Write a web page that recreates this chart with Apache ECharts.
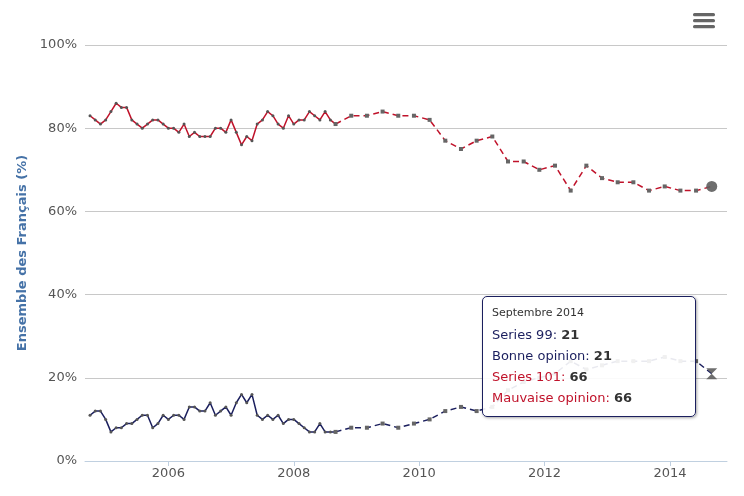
<!DOCTYPE html>
<html><head><meta charset="utf-8">
<script src="https://cdn.jsdelivr.net/npm/echarts@6/dist/echarts.min.js"></script>
<style>html,body{margin:0;padding:0;background:#fff}#c{width:744px;height:496px}</style>
</head><body><div id="c"></div><script>
// Monthly series (solid lines)
const monthlyDates = [
'2004-10','2004-11','2004-12','2005-01','2005-02','2005-03','2005-04','2005-05','2005-06','2005-07','2005-08','2005-09','2005-10','2005-11','2005-12',
'2006-01','2006-02','2006-03','2006-04','2006-05','2006-06','2006-07','2006-08','2006-09','2006-10','2006-11','2006-12',
'2007-01','2007-02','2007-03','2007-04','2007-05','2007-06','2007-07','2007-08','2007-09','2007-10','2007-11','2007-12',
'2008-01','2008-02','2008-03','2008-04','2008-05','2008-06','2008-07','2008-08','2008-09'];
const bonneMonthly = [11,12,12,10,7,8,8,9,9,10,11,11,8,9,11,10,11,11,10,13,13,12,12,14,11,12,13,11,14,16,14,16,11,10,11,10,11,9,10,10,9,8,7,7,9,7,7,7];
const mauvaiseMonthly = [83,82,81,82,84,86,85,85,82,81,80,81,82,82,81,80,80,79,81,78,79,78,78,78,80,80,79,82,79,76,78,77,81,82,84,83,81,80,83,81,82,82,84,83,82,84,82,81];
// Quarterly series (dashed lines)
const quarterlyDates = ['2008-09','2008-12','2009-03','2009-06','2009-09','2009-12','2010-03','2010-06','2010-09','2010-12','2011-03','2011-06','2011-09','2011-12','2012-03','2012-06','2012-09','2012-12','2013-03','2013-06','2013-09','2013-12','2014-03','2014-06','2014-09'];
const bonneQuarterly = [7,8,8,9,8,9,10,12,13,12,13,17,19,20,21,24,22,23,24,24,24,25,24,24,21];
const mauvaiseQuarterly = [81,83,83,84,83,83,82,77,75,77,78,72,72,70,71,65,71,68,67,67,65,66,65,65,66];
const xTickYears = [2006,2008,2010,2012,2014];
const yAxisTitle = 'Ensemble des Français (%)';
const tooltipTitle = 'Septembre 2014';

const NAVY = '#1b1f5e', RED = '#c0122a';
const FONT = "'Lucida Grande','DejaVu Sans',sans-serif";
function toYear(s){ const p = s.split('-').map(Number); return p[0] + (p[1]-1)/12; }
function pairs(dates, vals){ return dates.map((d,i)=>[toYear(d), vals[i]]); }
function dashedData(dates, vals, lastSymbol, lastSize){
  return dates.map((d,i)=>{
    const item = {value:[toYear(d), vals[i]]};
    if(i === dates.length-1){ item.symbol = lastSymbol; item.symbolSize = lastSize; item.itemStyle = {color:'#5e5e5e', opacity:0.9}; }
    return item;
  });
}
const lastB = bonneQuarterly[bonneQuarterly.length-1];
const lastM = mauvaiseQuarterly[mauvaiseQuarterly.length-1];

const chart = echarts.init(document.getElementById('c'), null, {renderer:'canvas'});
chart.setOption({
  animation:false,
  backgroundColor:'#fff',
  textStyle:{fontFamily:FONT},
  grid:{left:85, right:17, top:45, bottom:35, containLabel:false},
  xAxis:{
    type:'value', min:2004.67, max:2014.91,
    axisLine:{show:true, lineStyle:{color:'#C0D0E0', width:1}},
    axisTick:{show:true, length:5, lineStyle:{color:'#C0D0E0'}, customValues:xTickYears},
    axisLabel:{customValues:xTickYears, color:'#555', fontSize:13, margin:6, fontFamily:FONT, formatter:v=>String(Math.round(v))},
    splitLine:{show:false}
  },
  yAxis:{
    type:'value', min:0, max:100, interval:20,
    name:yAxisTitle, nameLocation:'middle', nameGap:56, nameRotate:90,
    nameTextStyle:{color:'#4572A7', fontWeight:'bold', fontSize:13, fontFamily:FONT},
    axisLine:{show:false}, axisTick:{show:false},
    axisLabel:{formatter:'{value}%', color:'#555', fontSize:13, margin:8, fontFamily:FONT},
    splitLine:{lineStyle:{color:'#C8C8C8', width:1}}
  },
  tooltip:{
    trigger:'item', triggerOn:'none', alwaysShowContent:true,
    position:function(){ return [482, 296]; },
    backgroundColor:'rgba(255,255,255,0.9)', borderColor:NAVY, borderWidth:1.5, borderRadius:5,
    padding:[8,9,8,9],
    extraCssText:'box-shadow:1px 1px 3px rgba(0,0,0,0.35);width:194px;line-height:21px;',
    formatter:function(){
      const st = 'font-size:13px;';
      const b = v=>'<b style="color:#333">'+v+'</b>';
      return '<div style="font-size:11px;color:#333;line-height:16px;margin-bottom:3px">'+tooltipTitle+'</div>'+
        '<div style="'+st+'color:'+NAVY+'">Series 99: '+b(lastB)+'</div>'+
        '<div style="'+st+'color:'+NAVY+'">Bonne opinion: '+b(lastB)+'</div>'+
        '<div style="'+st+'color:'+RED+'">Series 101: '+b(lastM)+'</div>'+
        '<div style="'+st+'color:'+RED+'">Mauvaise opinion: '+b(lastM)+'</div>';
    }
  },
  series:[
    {name:'Bonne opinion', type:'line', data:pairs(monthlyDates, bonneMonthly),
     lineStyle:{color:NAVY, width:1.5}, itemStyle:{color:'#555'}, symbol:'circle', symbolSize:3, showSymbol:true, z:3},
    {name:'Series 99', type:'line', data:dashedData(quarterlyDates, bonneQuarterly, 'path://M0,0 L10,0 L5,5 L10,10 L0,10 L5,5 Z', 11),
     lineStyle:{color:NAVY, width:1.5, type:[6,4]}, itemStyle:{color:'#666'}, symbol:'rect', symbolSize:4, showSymbol:true, z:3},
    {name:'Mauvaise opinion', type:'line', data:pairs(monthlyDates, mauvaiseMonthly),
     lineStyle:{color:RED, width:1.5}, itemStyle:{color:'#555'}, symbol:'circle', symbolSize:3, showSymbol:true, z:3},
    {name:'Series 101', type:'line', data:dashedData(quarterlyDates, mauvaiseQuarterly, 'circle', 11),
     lineStyle:{color:RED, width:1.5, type:[6,4]}, itemStyle:{color:'#666'}, symbol:'rect', symbolSize:4, showSymbol:true, z:3}
  ],
  graphic:[
    {type:'rect', shape:{x:693, y:13, width:22, height:3.3, r:1.5}, style:{fill:'#666'}},
    {type:'rect', shape:{x:693, y:19, width:22, height:3.3, r:1.5}, style:{fill:'#666'}},
    {type:'rect', shape:{x:693, y:25, width:22, height:3.3, r:1.5}, style:{fill:'#666'}}
  ]
});
chart.dispatchAction({type:'showTip', seriesIndex:3, dataIndex:quarterlyDates.length-1});
</script></body></html>
